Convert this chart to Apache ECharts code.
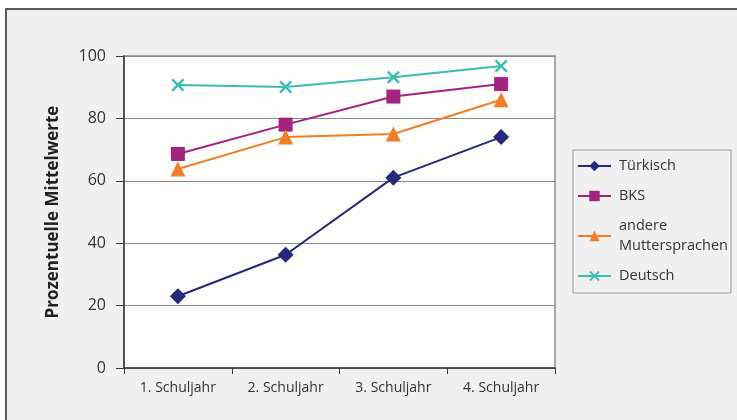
<!DOCTYPE html>
<html>
<head>
<meta charset="utf-8">
<script src="https://cdn.jsdelivr.net/npm/echarts@6/dist/echarts.min.js"></script>
<style>
  html, body { margin: 0; padding: 0; background: #ffffff; overflow: hidden; }
  #frame { position: absolute; left: 5px; top: 8px; width: 800px; height: 500px;
           background: #f0f0f0; border: 2px solid #5a5a5a; box-sizing: border-box; }
  #chart { position: absolute; left: 0; top: 0; width: 737px; height: 420px; }
</style>
</head>
<body>
<div id="frame"></div>
<div id="chart"></div>
<script>
// Schuljahre (categories)
const categories = ['1. Schuljahr', '2. Schuljahr', '3. Schuljahr', '4. Schuljahr'];

// Prozentuelle Mittelwerte je Erstsprache
const tuerkisch = [23, 36.3, 61, 74];
const bks = [68.6, 78, 87, 91];
const andere = [63.8, 74, 75, 86];
const deutsch = [90.7, 90.1, 93.2, 96.8];

const yTicks = { min: 0, max: 100, interval: 20 };

const FONT = '"Open Sans", "Noto Sans", sans-serif';
const crossPath = 'path://M0,1.3 L1.3,0 L5,3.7 L8.7,0 L10,1.3 L6.3,5 L10,8.7 L8.7,10 L5,6.3 L1.3,10 L0,8.7 L3.7,5 Z';

function lineSeries(name, data, color, symbol, size) {
  return {
    name: name, type: 'line', data: data,
    symbol: symbol, symbolSize: size,
    itemStyle: { color: color },
    lineStyle: { color: color, width: 2 },
    emphasis: { disabled: true }
  };
}

const chart = echarts.init(document.getElementById('chart'), null, { renderer: 'canvas' });
chart.setOption({
  animation: false,
  textStyle: { fontFamily: FONT },
  grid: {
    left: 124, top: 56, right: 182, bottom: 52,
    show: true, backgroundColor: '#fdfdfb', borderColor: '#8a8a8a', borderWidth: 1.5
  },
  legend: {
    orient: 'vertical',
    left: 573, top: 150,
    padding: [6, 3, 7, 4],
    itemWidth: 33, itemHeight: 13,
    itemGap: 10,
    backgroundColor: '#f0f0f0',
    borderColor: '#9a9a9a', borderWidth: 1,
    textStyle: { fontFamily: FONT, fontSize: 14.5, color: '#333', lineHeight: 20, padding: [0, 0, 0, 3] },
    formatter: function (name) {
      return name === 'andere Muttersprachen' ? 'andere\nMuttersprachen' : name;
    }
  },
  xAxis: {
    type: 'category', data: categories, boundaryGap: true,
    axisLine: { lineStyle: { color: '#3a3a3a', width: 1.5 } },
    axisTick: { show: true, length: 6, lineStyle: { color: '#3a3a3a' } },
    axisLabel: { fontSize: 14, color: '#333', margin: 13, fontFamily: FONT }
  },
  yAxis: {
    type: 'value', min: yTicks.min, max: yTicks.max, interval: yTicks.interval,
    name: 'Prozentuelle Mittelwerte', nameLocation: 'middle', nameGap: 62,
    nameTextStyle: { fontSize: 17, fontWeight: 'bold', color: '#222', fontFamily: FONT },
    axisLine: { show: true, lineStyle: { color: '#3a3a3a', width: 1.5 } },
    axisTick: { show: true, length: 8, lineStyle: { color: '#3a3a3a' } },
    axisLabel: { fontSize: 16, color: '#333', margin: 18, fontFamily: FONT },
    splitLine: { show: true, lineStyle: { color: '#8a8a8a', width: 1.2 } }
  },
  series: [
    lineSeries('Türkisch', tuerkisch, '#24297a', 'diamond', 16),
    lineSeries('BKS', bks, '#a3237f', 'rect', 14),
    lineSeries('andere Muttersprachen', andere, '#f07e26', 'triangle', 15),
    lineSeries('Deutsch', deutsch, '#3dbdb0', crossPath, 13)
  ]
});
</script>
</body>
</html>
